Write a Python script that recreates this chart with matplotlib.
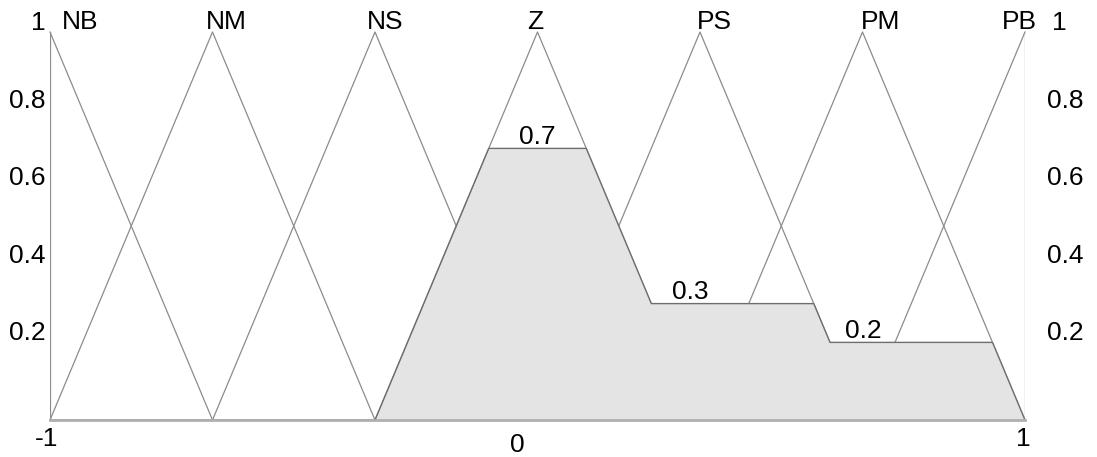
import numpy as np
import matplotlib.pyplot as plt

plt.rcParams['font.family'] = ['Liberation Sans', 'DejaVu Sans']

# fuzzy sets on [-1, 1]
set_names = ['NB', 'NM', 'NS', 'Z', 'PS', 'PM', 'PB']
set_centers = [-1, -2/3, -1/3, 0, 1/3, 2/3, 1]
half_width = 1/3

# rule firing strengths (clipped sets)
fired_sets = ['Z', 'PS', 'PM']
fired_levels = [0.7, 0.3, 0.2]

y_ticks = [1, 0.8, 0.6, 0.4, 0.2]
x_ticks = [-1, 0, 1]


def tri(x, c, w):
    return np.clip(1 - np.abs(x - c) / w, 0, 1)


fig = plt.figure(figsize=(10.97, 4.57), dpi=100)
ax = fig.add_axes([50/1097, 37/457, 975/1097, 388/457])
ax.set_xlim(-1, 1)
ax.set_ylim(0, 1)
ax.axis('off')

line_col = '#8c8c8c'

# aggregated output (max of clipped sets), drawn over the triangles
xs = np.linspace(-1, 1, 4001)
agg = np.zeros_like(xs)
for name, lvl in zip(fired_sets, fired_levels):
    c = set_centers[set_names.index(name)]
    agg = np.maximum(agg, np.minimum(tri(xs, c, half_width), lvl))
ax.fill_between(xs, 0, agg, color='#e4e4e4', lw=0, zorder=3)
ax.plot(xs, agg, color='#6e6e6e', lw=1.0, zorder=4)

# membership triangles
for c in set_centers:
    xx = [max(c - half_width, -1), c, min(c + half_width, 1)]
    yy = [tri(xx[0], c, half_width), 1, tri(xx[2], c, half_width)]
    ax.plot(xx, yy, color=line_col, lw=0.9, zorder=2, clip_on=False)
ax.plot([-1, -1], [0, 1], color=line_col, lw=0.9, zorder=2)
ax.plot([1, 1], [0, 1], color=line_col, lw=0.9, zorder=2)
ax.plot([-1, 1], [0, 0], color='#b0b0b0', lw=2.0, zorder=5, clip_on=False)

fs = 19
px = 2 / 975  # data units per pixel in x

# set names above peaks
name_offsets = [12, -7, -8, -10, -3, -2, -23]
for name, c, off in zip(set_names, set_centers, name_offsets):
    ax.text(c + off * px, 1.026, name, ha='left', va='center', fontsize=fs, clip_on=False)

# level labels
for name, lvl in zip(fired_sets, fired_levels):
    c = set_centers[set_names.index(name)]
    shift = {'Z': 0, 'PS': -10, 'PM': 1}[name]
    ax.text(c + shift * px, lvl + 0.03, str(lvl), ha='center', va='center', fontsize=fs, zorder=6)

# y labels on both sides
for v in y_ticks:
    yv = v + 0.023 if v != 1 else 1.023
    ax.text(-1 - 4 * px, yv, f'{v:g}', ha='right', va='center', fontsize=fs, clip_on=False)
    ax.text(1 + (27 if v == 1 else 22) * px, yv, f'{v:g}', ha='left', va='center', fontsize=fs, clip_on=False)

# x labels
x_label_pos = {-1: (-3, -0.05), 0: (-20, -0.065), 1: (-2, -0.05)}
for v in x_ticks:
    dx, yy = x_label_pos[v]
    ax.text(v + dx * px, yy, f'{v:g}', ha='center', va='center', fontsize=fs, clip_on=False)

fig.savefig('out.png', dpi=100, facecolor='white')
